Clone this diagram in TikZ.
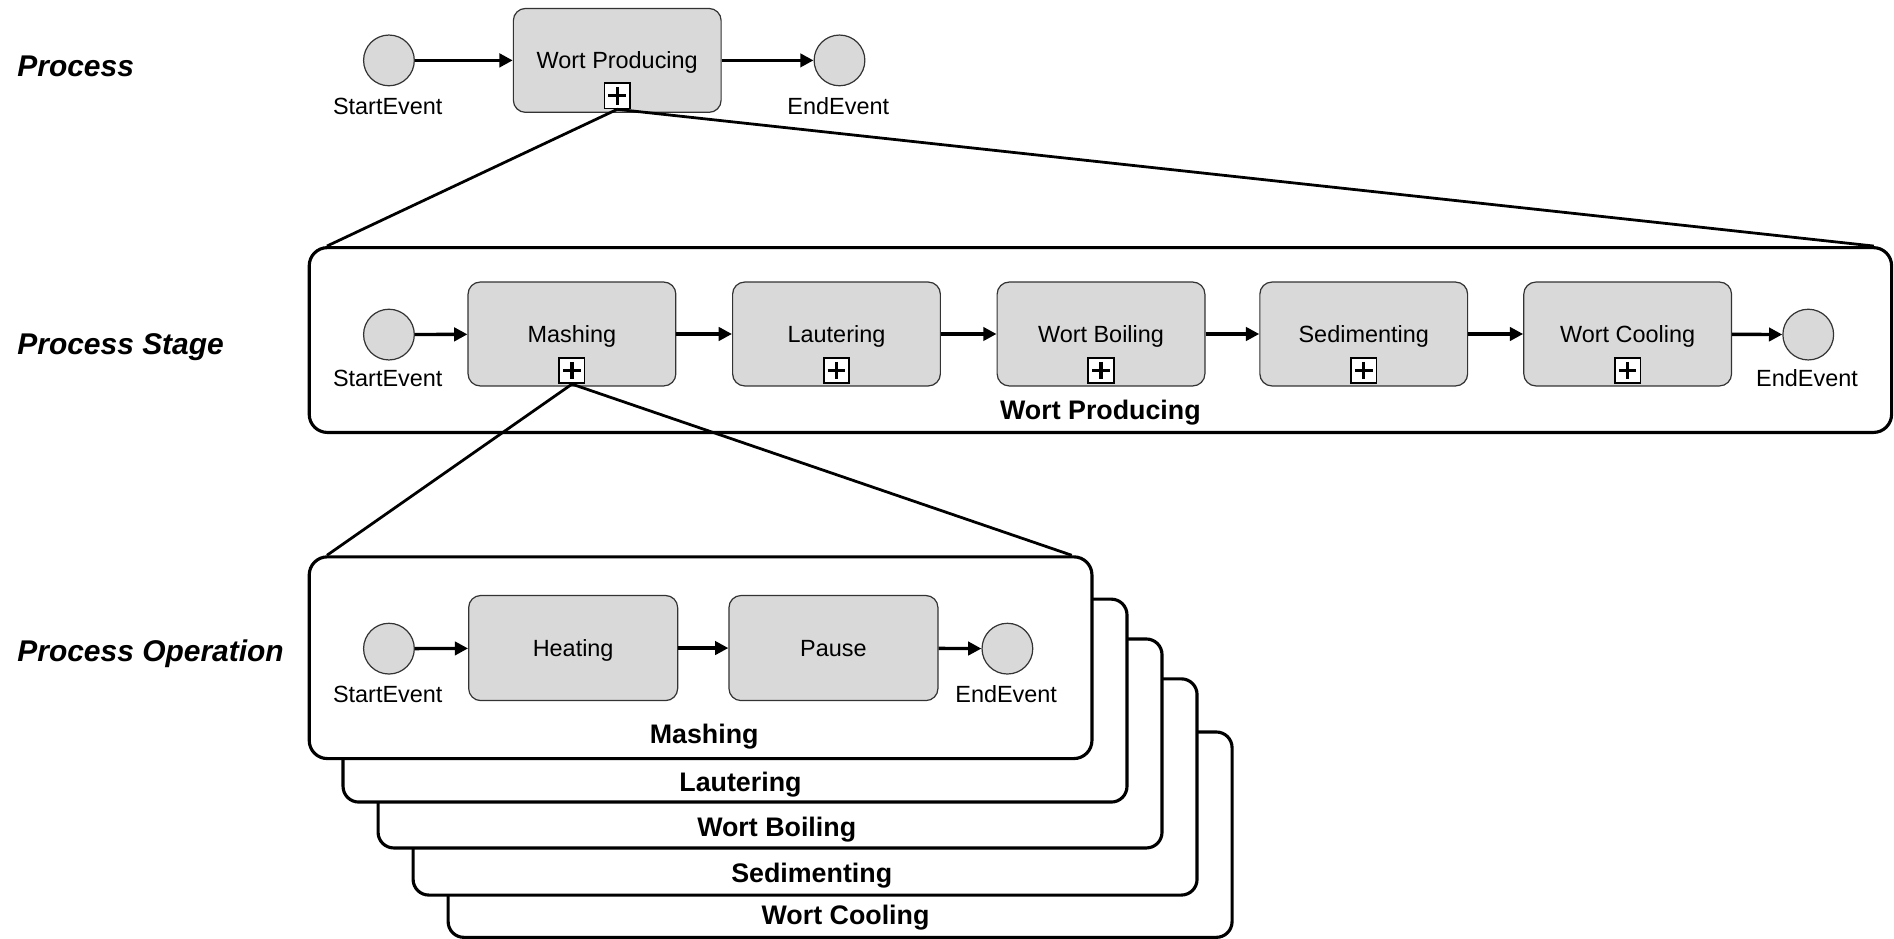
\documentclass[tikz,border=0pt]{standalone}
\usepackage{fontspec}
\setmainfont{Liberation Sans}
\usetikzlibrary{arrows.meta}
\definecolor{taskgray}{HTML}{D9D9D9}
\begin{document}
\begin{tikzpicture}[x=0.5pt,y=-0.5pt,
  normaltext/.style={font=\fontsize{9.7}{11}\selectfont},
  task/.style={normaltext,draw=black!80,line width=0.5pt,fill=taskgray,rounded corners=5pt,
    minimum width=86pt,minimum height=43pt,inner sep=0pt,text height=7pt,text depth=0pt},
  event/.style={circle,draw=black!80,line width=0.5pt,fill=taskgray,minimum size=21pt,inner sep=0pt},
  evlabel/.style={normaltext,inner sep=0pt},
  flow/.style={-{Triangle[length=5.5pt,width=5.5pt]},line width=1.4pt},
  expand/.style={line width=1.15pt},
  container/.style={draw,fill=white,line width=1.3pt,rounded corners=7.5pt,inner sep=0pt},
  title/.style={font=\fontsize{11.1}{13}\selectfont\bfseries,inner sep=0pt,yshift=-1.4pt},
  level/.style={font=\fontsize{12.4}{14}\selectfont\bfseries\itshape,inner sep=0pt,anchor=west,yshift=-1.3pt},
  submarker/.style={draw,fill=white,line width=0.7pt,minimum size=10.5pt,inner sep=0pt,anchor=south,
    path picture={
      \draw[line width=1.3pt]
        ([xshift=1.6pt]path picture bounding box.west) -- ([xshift=-1.6pt]path picture bounding box.east)
        ([yshift=-1.6pt]path picture bounding box.north) -- ([yshift=1.6pt]path picture bounding box.south);
    }},
]
\useasboundingbox (0,0) rectangle (1568,777);

% level captions
\node[level] (lvl1) at (14,52) {Process};
\node[level] (lvl2) at (14,285) {Process Stage};
\node[level] (lvl3) at (14,539) {Process Operation};

% ---- process ----
\node[event] (s0) at (322,50) {};
\node[task] (t0) at (511,50) {Wort Producing};
\node[event] (e0) at (695,50) {};
\node[evlabel] (s0l) at (321,88) {StartEvent};
\node[evlabel] (e0l) at (694,88) {EndEvent};
\node[submarker,yshift=1.5pt] (m0) at (t0.south) {};
\draw[flow] (s0) -- (t0);
\draw[flow] (t0) -- (e0);

% ---- process stage ----
\node[container,minimum width=655pt,minimum height=76.5pt] (stage) at (911,281.5) {};
\draw[expand] (m0.south) -- ([xshift=8pt]stage.north west);
\draw[expand] (m0.south) -- ([xshift=-8pt]stage.north east);

\node[event] (s1) at (322,277) {};
\node[task] (mash) at (473.5,276.5) {Mashing};
\node[task] (laut) at (692.5,276.5) {Lautering};
\node[task] (boil) at (911.5,276.5) {Wort Boiling};
\node[task] (sedi) at (1129,276.5) {Sedimenting};
\node[task] (cool) at (1347.5,276.5) {Wort Cooling};
\node[event] (e1) at (1497,277) {};
\node[evlabel] (s1l) at (321,313) {StartEvent};
\node[evlabel] (e1l) at (1496,313) {EndEvent};
\foreach \t/\m in {mash/m1,laut/m2,boil/m3,sedi/m4,cool/m5}
  \node[submarker,yshift=1pt] (\m) at (\t.south) {};
\draw[flow] (s1) -- (mash);
\draw[flow] (mash) -- (laut);
\draw[flow] (laut) -- (boil);
\draw[flow] (boil) -- (sedi);
\draw[flow] (sedi) -- (cool);
\draw[flow] (cool) -- (e1);
\node[title] (stagetitle) at (911,339) {Wort Producing};

% ---- process operations (stacked, back to front) ----
\node[container,rounded corners=6.5pt,minimum width=324.5pt,minimum height=85pt] (op5) at (695.5,691) {};
\node[container,rounded corners=6.5pt,minimum width=324.5pt,minimum height=89.5pt] (op4) at (666.5,651.5) {};
\node[container,rounded corners=6.5pt,minimum width=324.5pt,minimum height=86.5pt] (op3) at (637.5,615.5) {};
\node[container,rounded corners=6.5pt,minimum width=324.5pt,minimum height=84pt] (op2) at (608.5,580) {};
\node[container,minimum width=324pt,minimum height=83.5pt] (op1) at (580,544.5) {};
\draw[expand] (m1.south) -- ([xshift=8pt]op1.north west);
\draw[expand] (m1.south) -- ([xshift=-9pt]op1.north east);

\node[title] (op5t) at (700,757) {Wort Cooling};
\node[title] (op4t) at (672,722) {Sedimenting};
\node[title] (op3t) at (643,684) {Wort Boiling};
\node[title] (op2t) at (613,647) {Lautering};
\node[title] (op1t) at (583,607) {Mashing};

\node[event] (s2) at (322,537) {};
\node[task,minimum width=86.5pt,minimum height=43.5pt] (heat) at (474.5,536.5) {Heating};
\node[task,minimum width=86.5pt,minimum height=43.5pt] (pause) at (690,536.5) {Pause};
\node[event] (e2) at (834,537) {};
\node[evlabel] (s2l) at (321,575) {StartEvent};
\node[evlabel] (e2l) at (833,575) {EndEvent};
\draw[flow] (s2) -- (heat);
\draw[flow] (heat) -- (pause);
\draw[flow] (pause) -- (e2);
\end{tikzpicture}
\end{document}
